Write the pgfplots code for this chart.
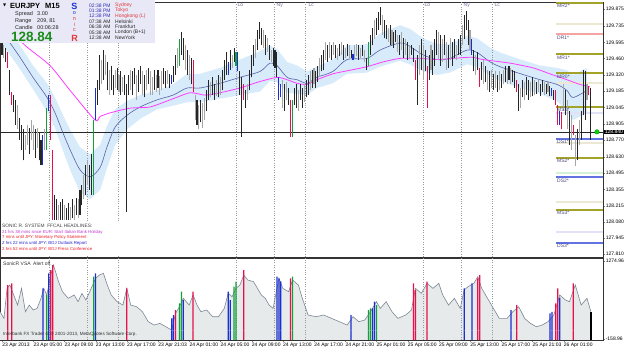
\documentclass[border=0pt]{standalone}
\usepackage{pgfplots}
\pgfplotsset{compat=1.18}
\usepackage{pgfplotstable}
\usepackage{fontspec}
\setmainfont{Liberation Sans}
\newfontfamily\dejavu{DejaVu Sans}
\newcommand{\fs}[1]{\fontsize{#1}{#1}\selectfont}

\definecolor{barblack}{HTML}{262626}
\definecolor{bargray}{HTML}{A6A6A6}
\definecolor{barred}{HTML}{E8104A}
\definecolor{barblue}{HTML}{1A2FD0}
\definecolor{bargreen}{HTML}{12A03A}
\definecolor{maslate}{HTML}{5862A8}
\definecolor{bandblue}{HTML}{D7EBFB}
\definecolor{mamag}{HTML}{FF3CFF}
\definecolor{pvolive}{HTML}{A3A32A}
\definecolor{salmon}{HTML}{F5A3A3}
\definecolor{pvblue}{HTML}{6272E0}
\definecolor{faintbeige}{HTML}{ECE8D4}
\definecolor{faintlav}{HTML}{E2E2F6}
\definecolor{faintgreen}{HTML}{D4F2D4}
\definecolor{pvtext}{HTML}{484880}
\definecolor{infobg}{HTML}{E8E8F6}
\definecolor{vsafill}{HTML}{E6EAEA}
\definecolor{vsaline}{HTML}{7C8794}
\definecolor{sesstext}{HTML}{6E6E96}
\definecolor{pricegreen}{HTML}{1A8C1A}
\definecolor{hlpurple}{HTML}{C03AD0}
\definecolor{hlred}{HTML}{F0202A}
\definecolor{hlblue}{HTML}{2323D0}
\definecolor{timeblue}{HTML}{2D2DB4}
\definecolor{cityred}{HTML}{E03A3A}

% price bars: t low high class (0 dark,1 grey,2 red,3 blue,4 green)
\pgfplotstableread{
t lo hi k
0 129.49 129.62 0
1 129.46 129.57 1
2 129.43 129.55 0
3 129.38 129.51 2
4 129.15 129.36 0
5 129.07 129.18 2
6 129.01 129.15 0
7 128.90 129.11 0
8 128.86 129.07 1
9 128.77 128.96 0
10 128.69 128.90 0
11 128.60 128.86 0
12 128.69 128.81 1
13 128.73 128.90 1
14 128.65 128.87 0
15 128.77 128.94 1
16 128.69 128.90 1
17 128.62 128.86 0
18 128.70 128.87 1
19 128.60 128.84 0
20 128.56 128.77 0
21 128.56 128.81 3
22 128.69 128.86 1
23 128.69 129.04 4
24 129.02 129.15 3
25 128.77 129.15 2
26 128.10 128.69 2
27 128.10 128.31 0
28 128.10 128.27 0
29 128.10 128.22 1
30 128.10 128.25 0
31 128.10 128.27 0
32 128.10 128.22 1
33 128.10 128.20 0
34 128.10 128.24 0
35 128.10 128.21 1
36 128.11 128.27 0
37 128.10 128.22 1
38 128.14 128.28 0
39 128.11 128.27 1
40 128.14 128.35 0
41 128.22 128.39 0
42 128.27 128.48 1
43 128.31 128.56 0
44 128.39 128.60 1
45 128.35 128.56 0
46 128.31 128.65 0
47 128.31 128.94 4
48 128.94 129.21 3
49 129.07 129.28 0
50 129.19 129.49 0
51 129.24 129.45 1
52 129.28 129.53 0
53 129.32 129.49 1
54 129.19 129.43 0
55 129.15 129.36 1
56 129.19 129.40 0
57 129.15 129.32 0
58 129.21 129.36 1
59 129.19 129.38 0
60 129.18 129.32 1
61 129.15 129.35 0
62 129.18 129.30 1
63 129.15 129.32 0
64 128.16 129.24 0
65 129.15 129.32 0
66 129.19 129.36 1
67 129.15 129.35 0
68 129.24 129.38 0
69 129.11 129.32 1
70 129.18 129.36 0
71 129.24 129.40 0
72 129.15 129.35 1
73 129.13 129.32 0
74 129.19 129.36 1
75 129.24 129.38 0
76 129.15 129.35 1
77 129.15 129.30 1
78 129.19 129.36 0
79 129.18 129.32 1
80 129.21 129.36 0
81 129.15 129.31 1
82 129.19 129.35 1
83 129.24 129.38 0
84 129.21 129.35 0
85 129.24 129.36 1
86 129.21 129.33 0
87 129.24 129.32 3
88 129.26 129.40 0
89 129.32 129.49 0
90 129.38 129.55 1
91 129.40 129.62 4
92 129.49 129.68 0
93 129.45 129.63 0
94 129.36 129.57 1
95 129.32 129.53 0
96 129.28 129.49 1
97 129.24 129.46 0
98 129.18 129.45 2
99 128.94 129.15 1
100 128.90 129.11 0
101 128.86 129.07 1
102 128.92 129.11 0
103 128.87 129.08 1
104 128.94 129.13 1
105 129.02 129.19 0
106 129.11 129.28 0
107 129.13 129.26 1
108 129.15 129.30 0
109 129.11 129.24 0
110 129.14 129.28 1
111 129.13 129.32 0
112 129.15 129.30 1
113 129.19 129.36 0
114 129.28 129.45 0
115 129.32 129.51 0
116 129.32 129.43 3
117 129.36 129.53 0
118 129.38 129.49 1
119 129.43 129.55 0
120 129.40 129.51 4
121 129.35 129.51 3
122 129.15 129.35 0
123 128.80 129.30 0
124 129.11 129.24 2
125 129.04 129.19 0
126 129.11 129.24 1
127 129.19 129.36 0
128 129.30 129.49 0
129 129.40 129.57 0
130 129.46 129.62 1
131 129.53 129.70 0
132 129.62 129.77 0
133 129.57 129.72 0
134 129.55 129.70 1
135 129.49 129.66 0
136 129.51 129.63 1
137 129.45 129.57 0
138 129.43 129.53 1
139 129.40 129.55 0
140 129.38 129.53 0
141 129.30 129.51 0
142 129.11 129.30 3
143 129.13 129.24 3
144 129.04 129.28 1
145 129.02 129.24 0
146 129.11 129.26 1
147 129.07 129.21 0
148 128.80 129.11 2
149 128.80 129.11 4
150 129.07 129.21 0
151 129.04 129.24 0
152 129.02 129.19 1
153 129.11 129.24 0
154 129.04 129.21 0
155 129.09 129.24 1
156 129.13 129.28 0
157 129.15 129.32 0
158 129.19 129.35 1
159 129.21 129.36 0
160 129.24 129.38 1
161 129.21 129.35 0
162 129.26 129.40 0
163 129.30 129.46 1
164 129.35 129.49 0
165 129.36 129.53 0
166 129.45 129.60 1
167 129.43 129.57 0
168 129.46 129.60 1
169 129.45 129.57 0
170 129.49 129.60 1
171 129.46 129.57 0
172 129.45 129.55 1
173 129.48 129.58 0
174 129.49 129.60 1
175 129.45 129.57 0
176 129.46 129.55 1
177 129.48 129.58 0
178 129.46 129.57 1
179 129.46 129.53 0
180 129.45 129.50 3
181 129.46 129.57 1
182 129.48 129.58 1
183 129.45 129.57 0
184 129.46 129.55 1
185 129.48 129.57 0
186 129.43 129.53 1
187 129.36 129.46 0
188 129.40 129.60 4
189 129.49 129.66 0
190 129.57 129.72 0
191 129.62 129.78 1
192 129.66 129.80 0
193 129.70 129.85 0
194 129.74 129.89 0
195 129.66 129.83 1
196 129.63 129.78 0
197 129.62 129.74 0
198 129.60 129.72 1
199 129.57 129.74 0
200 129.57 129.70 1
201 129.55 129.68 0
202 129.60 129.70 0
203 129.51 129.66 1
204 129.49 129.66 0
205 129.53 129.68 1
206 129.46 129.63 0
207 129.49 129.62 1
208 129.45 129.60 0
209 129.46 129.57 1
210 129.49 129.57 0
211 129.43 129.55 0
212 129.28 129.45 2
213 129.07 129.49 0
214 129.32 129.57 1
215 129.36 129.62 0
216 129.28 129.57 1
217 129.35 129.53 0
218 129.04 129.40 2
219 129.28 129.49 0
220 129.36 129.57 1
221 129.32 129.53 0
222 129.40 129.62 0
223 129.49 129.70 0
224 129.45 129.68 1
225 129.40 129.66 0
226 129.43 129.62 1
227 129.49 129.66 0
228 129.36 129.60 1
229 129.38 129.57 0
230 129.45 129.63 1
231 129.40 129.60 0
232 129.46 129.62 0
233 129.45 129.57 1
234 129.49 129.62 0
235 129.49 129.66 0
236 129.57 129.74 1
237 129.62 129.83 0
238 129.70 129.86 0
239 129.57 129.78 0
240 129.53 129.70 1
241 129.49 129.62 3
242 129.35 129.53 0
243 129.32 129.49 1
244 129.36 129.51 0
245 129.22 129.38 2
246 129.28 129.43 0
247 129.24 129.45 1
248 129.26 129.40 0
249 129.19 129.36 1
250 129.18 129.35 0
251 129.21 129.36 1
252 129.19 129.33 0
253 129.21 129.35 1
254 129.18 129.32 0
255 129.19 129.35 1
256 129.21 129.33 0
257 129.24 129.36 1
258 129.26 129.40 0
259 129.24 129.38 1
260 129.28 129.40 0
261 129.24 129.38 1
262 129.26 129.36 0
263 129.21 129.35 0
264 129.18 129.28 2
265 129.02 129.24 0
266 129.04 129.21 1
267 129.13 129.28 0
268 129.11 129.26 1
269 129.15 129.30 0
270 129.11 129.28 0
271 129.13 129.26 1
272 129.14 129.30 0
273 129.15 129.28 1
274 129.16 129.26 0
275 129.18 129.28 1
276 129.14 129.24 0
277 129.18 129.28 0
278 129.15 129.26 1
279 129.16 129.24 0
280 129.18 129.26 1
281 129.14 129.23 0
282 129.14 129.21 3
283 129.11 129.19 0
284 129.07 129.19 2
285 128.90 129.07 2
286 128.90 129.02 3
287 128.86 129.01 2
288 129.02 129.24 1
289 128.98 129.19 0
290 128.86 129.11 1
291 128.73 129.02 0
292 128.69 128.98 1
293 128.81 128.90 2
294 128.55 128.81 1
295 128.60 128.86 0
296 128.73 128.94 1
297 128.77 129.02 0
298 128.98 129.36 0
299 128.94 129.35 0
300 129.11 129.24 1
301 129.15 129.23 2
302 128.77 129.21 0
}\bars

% coloured price bars (same rows as in the table above, by colour)
\pgfplotstableread{
t lo hi
3 129.38 129.51
5 129.07 129.18
25 128.77 129.15
26 128.10 128.69
98 129.18 129.45
124 129.11 129.24
148 128.80 129.11
212 129.28 129.45
218 129.04 129.40
245 129.22 129.38
264 129.18 129.28
284 129.07 129.19
285 128.90 129.07
287 128.86 129.01
293 128.81 128.90
301 129.15 129.23
}\barsred
\pgfplotstableread{
t lo hi
21 128.56 128.81
24 129.02 129.15
48 128.94 129.21
87 129.24 129.32
116 129.32 129.43
121 129.35 129.51
142 129.11 129.30
143 129.13 129.24
180 129.45 129.50
241 129.49 129.62
282 129.14 129.21
286 128.90 129.02
}\barsblue
\pgfplotstableread{
t lo hi
23 128.69 129.04
47 128.31 128.94
91 129.40 129.62
120 129.40 129.51
149 128.80 129.11
188 129.40 129.60
}\barsgreen

% fast MA
\pgfplotstableread{
t m
-1 129.70
4.1 129.59
9.2 129.47
15.9 129.30
23.1 129.13
27.2 129.00
31.3 128.83
34.9 128.69
40 128.52
45.1 128.46
50.3 128.54
53.8 128.71
58 128.88
64.1 128.98
70.8 129.05
79.5 129.11
87.7 129.15
94.9 129.21
101.5 129.21
111.8 129.25
122 129.30
132.3 129.35
137.4 129.42
141 129.40
146.2 129.30
151.3 129.28
156.4 129.25
161.5 129.30
169.7 129.35
176.9 129.45
187.2 129.46
193.8 129.53
204.1 129.59
209.2 129.56
215.9 129.49
223.1 129.45
229.7 129.46
238.5 129.53
243.6 129.51
250.3 129.43
255.4 129.39
264.1 129.34
275.9 129.28
284.6 129.24
289.7 129.19
292.8 129.13
300 129.19
}\matab

% envelope around fast MA: upper edge left to right, then lower edge right to left
\pgfplotstableread{
t b
-1 129.80
4.1 129.69
9.2 129.57
15.9 129.40
23.1 129.25
27.2 129.13
31.3 128.98
34.9 128.86
40 128.71
45.1 128.65
50.3 128.73
53.8 128.89
58 129.03
64.1 129.10
70.8 129.15
79.5 129.19
87.7 129.24
94.9 129.33
101.5 129.33
111.8 129.38
122 129.45
132.3 129.52
137.4 129.57
141 129.54
146.2 129.43
151.3 129.40
156.4 129.35
161.5 129.39
169.7 129.45
176.9 129.57
187.2 129.58
193.8 129.67
204.1 129.74
209.2 129.71
215.9 129.63
223.1 129.58
229.7 129.58
238.5 129.65
243.6 129.63
250.3 129.55
255.4 129.51
264.1 129.46
275.9 129.40
284.6 129.38
289.7 129.36
292.8 129.32
300 129.38
300 129.00
292.8 128.94
289.7 129.02
284.6 129.10
275.9 129.16
264.1 129.22
255.4 129.27
250.3 129.31
243.6 129.39
238.5 129.41
229.7 129.34
223.1 129.32
215.9 129.35
209.2 129.41
204.1 129.44
193.8 129.39
187.2 129.34
176.9 129.33
169.7 129.25
161.5 129.21
156.4 129.15
151.3 129.16
146.2 129.17
141 129.26
137.4 129.27
132.3 129.18
122 129.15
111.8 129.12
101.5 129.09
94.9 129.09
87.7 129.06
79.5 129.03
70.8 128.95
64.1 128.86
58 128.73
53.8 128.53
50.3 128.35
45.1 128.27
40 128.33
34.9 128.52
31.3 128.68
27.2 128.87
23.1 129.01
15.9 129.20
9.2 129.37
4.1 129.49
-1 129.60
}\band

% slow MA
\pgfplotstableread{
t m
-1 129.78
11.8 129.57
24.6 129.40
34.9 129.19
47.7 128.94
50.3 128.97
55.4 129.00
65.6 129.04
75.9 129.05
86.2 129.11
96.4 129.17
104.1 129.15
111.8 129.17
122 129.21
131.3 129.26
141 129.30
146.2 129.28
151.3 129.25
156.4 129.24
161.5 129.28
169.7 129.33
178.5 129.36
187.2 129.39
195.4 129.43
204.1 129.46
214.4 129.46
223.1 129.45
231.3 129.46
241 129.47
246.7 129.45
260.5 129.42
272.3 129.38
282.6 129.32
289.7 129.28
296.4 129.24
301.5 129.22
}\slowma

% VSA volume line (last two rows close the shaded area at the panel floor)
\pgfplotstableread{
t v
-1 343
1 220
2.6 772
4 833
6 650
8 465
10 772
12 343
14 465
16 374
18 404
20 588
21.4 772
23 650
25 1017
26.4 1201
29 895
31 711
34 588
37 650
39 527
41 680
43 557
45 711
48 956
50 1017
52 1048
54 833
56 650
59 527
62 465
64 772
66 465
69 435
72 343
75 159
78 98
81 128
84 67
87 6
89 312
91 435
93 588
96 465
98 650
100 465
102 343
105 374
108 251
111 251
114 404
116 680
118 619
120 772
122 833
124 1017
126 925
129 895
131 772
133 650
135 588
137 465
139 404
142 956
144 772
147 711
149 925
152 833
154 588
157 282
161 251
165 282
169 220
173 159
177 98
180 251
183 159
186 190
189 343
192 527
194 404
197 527
200 343
203 220
207 282
210 374
212 772
215 680
218 864
221 772
224 864
226 650
229 465
232 588
235 404
237 741
239 803
242 864
244 987
246 772
249 588
252 404
255 220
259 220
262 343
265 435
268 220
271 128
274 67
277 98
280 159
283 282
286 650
289 557
291 527
294 833
297 465
300 588
302 343
302 -177
-1 -177
}\vsaln

% VSA coloured bars
\pgfplotstableread{
t v
3 833
5 864
25 1109
26 1201
64 772
89 374
98 711
124 1109
148 956
211 864
212 741
218 895
244 956
245 1017
264 466
284 496
285 772
293 864
}\vsared
\pgfplotstableread{
t v
21 772
24 1048
48 1048
87 220
88 282
93 557
116 711
117 557
141 987
142 956
143 900
179 282
190 404
191 527
237 772
241 864
261 374
281 312
282 340
286 600
}\vsablue
\pgfplotstableread{
t v
23 650
47 987
91 496
92 711
119 803
120 895
149 987
188 374
189 404
192 466
}\vsagreen
\pgfplotstableread{
t v
302 343
}\vsablack

\pgfplotsset{
  rangebar/.style={forget plot, draw=#1, line width=1.05pt,
    quiver={u=0, v={\thisrow{hi}-\thisrow{lo}}}},
  vsabar/.style={forget plot, ybar, bar width=1.25pt, bar shift=0pt, draw=none, fill=#1},
}

\begin{document}
\begin{tikzpicture}
\path[use as bounding box] (0pt,0pt) rectangle (625pt,352pt);

% ---------------- main price panel ----------------
\begin{axis}[
  at={(0pt,95pt)}, anchor=south west, scale only axis,
  width=603pt, height=255pt,
  xmin=-1.03, xmax=308.2, ymin=127.784, ymax=129.936,
  axis line style={black!80, line width=0.6pt},
  xtick=\empty,
  ytick={127.810,127.945,128.080,128.215,128.355,128.495,128.630,128.770,128.905,129.045,129.185,129.320,129.460,129.595,129.735,129.875},
  yticklabels={127.810,127.945,128.080,128.215,128.355,128.495,128.630,128.770,128.905,129.045,129.185,129.320,129.460,129.595,129.735,129.875},
  ytick pos=right, yticklabel pos=right, tick align=outside,
  major tick length=2pt,
  yticklabel style={font=\fs{5}, inner sep=0.6pt},
  clip=false,
]
% envelope
\addplot[fill=bandblue, draw=none, forget plot] table[x=t, y=b] {\band};

% session separators
\foreach \s in {24,43.5,59.5,120,139.5,155.5,216,235.5,251.5}{
  \edef\tmp{\noexpand\draw[black!40, dash pattern=on 0.8pt off 1.6pt, line width=0.5pt] (axis cs:\s,127.784) -- (axis cs:\s,129.936);}\tmp
}

% faint pivot lines
\addplot[faintbeige, line width=1.2pt, forget plot] coordinates {(284.1,129.75) (308.2,129.75)};
\addplot[faintbeige, line width=1.2pt, forget plot] coordinates {(284.1,129.253) (308.2,129.253)};
\addplot[faintlav, line width=1.2pt, forget plot] coordinates {(284.1,128.999) (308.2,128.999)};
\addplot[faintbeige, line width=1.2pt, forget plot] coordinates {(284.1,128.746) (308.2,128.746)};
\addplot[faintgreen, line width=1.2pt, forget plot] coordinates {(284.1,128.493) (308.2,128.493)};
\addplot[faintbeige, line width=1.2pt, forget plot] coordinates {(284.1,128.248) (308.2,128.248)};
\addplot[faintlav, line width=1.2pt, forget plot] coordinates {(284.1,127.995) (308.2,127.995)};
% main pivot lines
\addplot[pvolive, line width=1.4pt, forget plot] coordinates {(284.1,129.926) (308.2,129.926)};
\addplot[salmon, line width=1.4pt, forget plot] coordinates {(284.1,129.666) (308.2,129.666)};
\addplot[pvolive, line width=1.4pt, forget plot] coordinates {(284.1,129.497) (308.2,129.497)};
\addplot[pvolive, line width=1.4pt, forget plot] coordinates {(284.1,129.337) (308.2,129.337)};
\addplot[pvolive, line width=1.4pt, forget plot] coordinates {(284.1,129.050) (308.2,129.050)};
\addplot[pvblue, line width=1.2pt, forget plot] coordinates {(284.1,128.780) (308.2,128.780)};
\addplot[pvolive, line width=1.4pt, forget plot] coordinates {(284.1,128.620) (308.2,128.620)};
\addplot[pvblue, line width=1.2pt, forget plot] coordinates {(284.1,128.459) (308.2,128.459)};
\addplot[pvolive, line width=1.4pt, forget plot] coordinates {(284.1,128.181) (308.2,128.181)};
\addplot[pvblue, line width=1.2pt, forget plot] coordinates {(284.1,127.902) (308.2,127.902)};

% current price line
\addplot[black!85, line width=0.6pt, forget plot] coordinates {(-1.03,128.84) (308.2,128.84)};

% moving averages
\addplot[maslate, line width=0.6pt, smooth, forget plot] table[x=t, y=m] {\matab};
\addplot[mamag, line width=0.8pt, smooth, tension=0.4, forget plot] table[x=t, y=m] {\slowma};

% bars: all in grey, dark ones on top, then coloured ones
\addplot[rangebar=bargray] table[x=t, y=lo] {\bars};
\addplot[rangebar=barblack, restrict expr to domain={\thisrow{k}}{0:0}] table[x=t, y=lo] {\bars};
\addplot[rangebar=barred] table[x=t, y=lo] {\barsred};
\addplot[rangebar=barblue] table[x=t, y=lo] {\barsblue};
\addplot[rangebar=bargreen] table[x=t, y=lo] {\barsgreen};

% last price marker
\addplot[only marks, mark=*, mark size=2.2pt, mark options={fill=green!85!black, draw=green!60!black}, forget plot] coordinates {(305.1,128.84)};
\end{axis}

% ---------------- VSA panel ----------------
\begin{axis}[
  at={(0pt,12pt)}, anchor=south west, scale only axis,
  width=603pt, height=82pt,
  xmin=-1.03, xmax=308.2, ymin=-177, ymax=1330,
  axis line style={black!80, line width=0.6pt},
  ytick={-158.96,1274.96}, yticklabels={-158.96,1274.96},
  ytick pos=right, yticklabel pos=right,
  xtick={0,16,...,288},
  xticklabels={23 Apr 2013,23 Apr 05:00,23 Apr 09:00,23 Apr 13:00,23 Apr 17:00,23 Apr 21:03,24 Apr 01:00,24 Apr 05:00,24 Apr 09:00,24 Apr 13:00,24 Apr 17:00,24 Apr 21:00,25 Apr 01:00,25 Apr 05:00,25 Apr 09:00,25 Apr 13:00,25 Apr 17:00,25 Apr 21:03,26 Apr 01:00},
  xtick pos=bottom, tick align=outside,
  major tick length=2pt,
  xticklabel style={font=\fs{5}, anchor=north west, inner sep=0.6pt, xshift=-0.5pt},
  yticklabel style={font=\fs{5}, inner sep=0.6pt},
  clip=false,
]
\addplot[fill=vsafill, draw=none, forget plot] table[x=t, y=v] {\vsaln};
\foreach \s in {24,43.5,59.5,120,139.5,155.5,216,235.5,251.5}{
  \edef\tmp{\noexpand\draw[black!40, dash pattern=on 0.8pt off 1.6pt, line width=0.5pt] (axis cs:\s,-177) -- (axis cs:\s,1330);}\tmp
}
\addplot[vsaline, line width=0.6pt, forget plot, restrict y to domain=-100:2000] table[x=t, y=v] {\vsaln};
% coloured bars: part above zero, then the stub down to the panel floor
\addplot[vsabar=barred] table[x=t, y=v] {\vsared};
\addplot[vsabar=barred] table[x=t, y expr=-177] {\vsared};
\addplot[vsabar=barblue] table[x=t, y=v] {\vsablue};
\addplot[vsabar=barblue] table[x=t, y expr=-177] {\vsablue};
\addplot[vsabar=bargreen] table[x=t, y=v] {\vsagreen};
\addplot[vsabar=bargreen] table[x=t, y expr=-177] {\vsagreen};
\addplot[vsabar=black] table[x=t, y=v] {\vsablack};
\addplot[vsabar=black] table[x=t, y expr=-177] {\vsablack};
\end{axis}

% ---------------- overlays in image pixel coordinates ----------------
\begin{scope}[shift={(0pt,352pt)}, x=1pt, y=-1pt]
% info panel
\fill[infobg] (0,0) rectangle (155,43);
\node[anchor=west, inner sep=0] at (3,5.5) {\dejavu\fs{4}▼};
\node[anchor=west, inner sep=0, font=\bfseries\fs{7.5}] at (10,5.8) {EURJPY\hspace{5pt}M15};
\node[anchor=west, inner sep=0, font=\fs{5.5}, text=black!85] at (15,14) {Spread};
\node[anchor=west, inner sep=0, font=\fs{5.5}, text=black!85] at (37,14) {3.00};
\node[anchor=west, inner sep=0, font=\fs{5.5}, text=black!85] at (15,21) {Range};
\node[anchor=west, inner sep=0, font=\fs{5.5}, text=black!85] at (37,21) {209, 81};
\node[anchor=west, inner sep=0, font=\fs{5.5}, text=black!85] at (15,27.5) {Candle};
\node[anchor=west, inner sep=0, font=\fs{5.5}, text=black!85] at (37,27.5) {00:06:28};
\node[anchor=west, inner sep=0, font=\bfseries\fs{13.5}, text=pricegreen] at (11,36.5) {128.84};
\node[inner sep=0, font=\bfseries\fs{9}, text=barblue] at (74.5,6) {S};
\node[inner sep=0, font=\fs{5.5}, text=barblue] at (74.5,13.5) {o};
\node[inner sep=0, font=\fs{5.5}, text=cityred] at (74.5,19.5) {n};
\node[inner sep=0, font=\fs{5.5}, text=cityred] at (74.5,25) {i};
\node[inner sep=0, font=\fs{5.5}, text=cityred] at (74.5,30.5) {c};
\node[inner sep=0, font=\bfseries\fs{9}, text=cityred] at (74.5,38) {R};
\foreach \y/\tm/\c/\cc/\city in {5.3/02:38 PM/timeblue/cityred/Sydney, 10.7/01:38 PM/timeblue/cityred/Tokyo, 16/12:38 PM/timeblue/cityred/Hongkong (L), 21.5/07:38 AM/black!85/black!85/Helsinki, 27/06:38 AM/black!85/black!85/Frankfurt, 32.5/05:38 AM/black!85/black!85/London (B+1), 38/12:38 AM/black!85/black!85/NewYork}{
  \node[anchor=west, inner sep=0, font=\fs{5}, text=\c] at (89,\y) {\tm};
  \node[anchor=west, inner sep=0, font=\fs{5}, text=\cc] at (115,\y) {\city};
}
% headlines
\fill[white] (0.5,221) rectangle (163,256);
\node[anchor=west, inner sep=0, font=\fs{4.8}, text=black!75] at (2,226) {SONIC R. SYSTEM\ \ FFCAL HEADLINES:};
\node[anchor=west, inner sep=0, font=\fs{4.3}, text=hlpurple] at (2,232) {21 hrs 38 mins since EUR: Start Italian Bank Holiday};
\node[anchor=west, inner sep=0, font=\fs{4.3}, text=hlred] at (2,237.5) {7 mins until JPY: Monetary Policy Statement};
\node[anchor=west, inner sep=0, font=\fs{4.3}, text=hlblue] at (2,243) {2 hrs 22 mins until JPY: BOJ Outlook Report};
\node[anchor=west, inner sep=0, font=\fs{4.3}, text=hlred] at (2,248.5) {2 hrs 52 mins until JPY: BOJ Press Conference};
% session labels
\foreach \x/\lab in {237.5/Lo, 276.5/Ny, 308.5/Lc, 424.5/Lo, 463.5/Ny, 494.5/Lc}{
  \node[anchor=west, inner sep=0, font=\fs{5}, text=sesstext] at (\x,5) {\lab};
}
% pivot labels
\foreach \y/\lab in {6/MR2*, 38/DR1*, 57.5/MR1*, 76.5/MR0*, 110/MS1*, 142/DS1*, 161/MS2*, 180.5/DS2*, 213/MS3*, 246/DS3*}{
  \node[anchor=west, inner sep=0, font=\fs{5}, text=pvtext] at (557,\y) {\lab};
}
% current price tag
\node[anchor=west, fill=black, text=white, font=\fs{5}, inner sep=0.7pt] at (604,132) {128.840};
% VSA texts
\node[anchor=west, inner sep=0, font=\fs{5}, text=black!80] at (3,263.5) {SonicR VSA};
\node[anchor=west, inner sep=0, font=\fs{5}, text=black!80] at (33,263.5) {Alert off.};
\node[anchor=west, inner sep=0, font=\fs{4.6}, text=black!80] at (3,334) {Interbank FX Trader 4, © 2001-2013, MetaQuotes Software Corp.};
\end{scope}
\end{tikzpicture}
\end{document}
